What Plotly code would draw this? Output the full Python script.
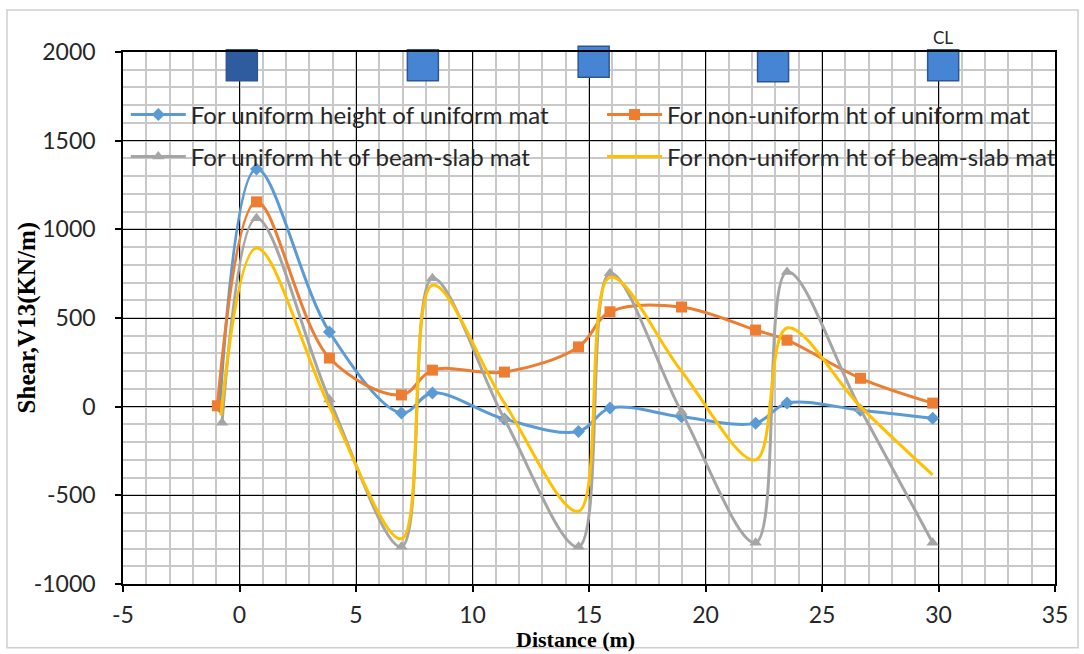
import plotly.graph_objects as go

# ---- data ----
distance = [-0.85, 0.73, 3.86, 6.95, 8.28, 11.37, 14.55, 15.9, 18.97, 22.15, 23.5, 26.65, 29.75]
distance_orange = [-0.95, 0.73, 3.86, 6.95, 8.28, 11.37, 14.55, 15.9, 18.97, 22.15, 23.5, 26.65, 29.75]
distance_gray = [-0.75, 0.73, 3.86, 6.95, 8.28, 11.37, 14.55, 15.9, 18.97, 22.15, 23.5, 26.65, 29.75]
distance_yellow = [-0.8, 0.73, 3.86, 6.95, 8.28, 11.37, 14.55, 15.9, 18.97, 22.15, 23.5, 26.65, 29.75]

uniform_height_uniform_mat = [0, 1340, 421, -36, 77, -70, -140, -8, -57, -93, 20, -20, -65]
nonuniform_ht_uniform_mat = [5, 1155, 274, 66, 206, 195, 337, 535, 562, 432, 375, 160, 20]
uniform_ht_beam_slab_mat = [-90, 1063, 40, -790, 724, -70, -790, 752, -30, -767, 760, -15, -767]
nonuniform_ht_beam_slab_mat = [-50, 895, 0, -745, 685, 20, -590, 730, 200, -300, 444, 0, -385]

support_x = [0.1, 7.87, 15.2, 22.9, 30.2]
support_y = [1925, 1925, 1945, 1920, 1925]
support_fill = ["#2E5C9E", "#4585D3", "#4585D3", "#4585D3", "#4585D3"]

series_names = [
    "For uniform height of uniform mat",
    "For non-uniform ht of uniform mat",
    "For uniform ht of beam-slab mat",
    "For non-uniform ht of beam-slab mat",
]
x_ticks = [-5, 0, 5, 10, 15, 20, 25, 30, 35]
y_ticks = [-1000, -500, 0, 500, 1000, 1500, 2000]

FONT = "Lato"
TXT = "#262626"

fig = go.Figure()

fig.add_trace(go.Scatter(
    x=distance, y=uniform_height_uniform_mat, name=series_names[0],
    mode="lines+markers", line=dict(color="#5B9BD5", width=3, shape="spline", smoothing=1),
    marker=dict(symbol="diamond", size=10, color="#5B9BD5"), legend="legend",
))
fig.add_trace(go.Scatter(
    x=distance_orange, y=nonuniform_ht_uniform_mat, name=series_names[1],
    mode="lines+markers", line=dict(color="#ED7D31", width=3, shape="spline", smoothing=1),
    marker=dict(symbol="square", size=11, color="#ED7D31"), legend="legend2",
))
fig.add_trace(go.Scatter(
    x=distance_gray, y=uniform_ht_beam_slab_mat, name=series_names[2],
    mode="lines+markers", line=dict(color="#A5A5A5", width=3, shape="spline", smoothing=1),
    marker=dict(symbol="triangle-up", size=11, color="#A5A5A5"), legend="legend3",
))
fig.add_trace(go.Scatter(
    x=distance_yellow, y=nonuniform_ht_beam_slab_mat, name=series_names[3],
    mode="lines", line=dict(color="#FFC000", width=3, shape="spline", smoothing=1),
    legend="legend4",
))
fig.add_trace(go.Scatter(
    x=support_x, y=support_y, mode="markers", showlegend=False, cliponaxis=False,
    marker=dict(symbol="square", size=31, color=support_fill,
                line=dict(color="#2F5597", width=1.5)),
    hoverinfo="skip",
))

axis_common = dict(
    showline=True, linecolor="black", linewidth=1.5, mirror=True,
    ticks="outside", ticklen=6, tickcolor="black", tickwidth=1.5,
    showgrid=True, gridcolor="black", gridwidth=1,
    zeroline=False,
    tickfont=dict(family=FONT, size=23, color=TXT),
)

fig.update_xaxes(
    range=[-5, 35], tickvals=x_ticks, ticktext=[str(v) for v in x_ticks],
    minor=dict(dtick=1, tick0=0, showgrid=True, gridcolor="#c8c8c8", gridwidth=1.5, ticks=""),
    ticklabelstandoff=4,
    **axis_common,
)
fig.update_yaxes(
    range=[-1000, 2000], tickvals=y_ticks, ticktext=[str(v) for v in y_ticks],
    minor=dict(dtick=100, tick0=0, showgrid=True, gridcolor="#c8c8c8", gridwidth=1.5, ticks=""),
    ticklabelstandoff=15,
    **axis_common,
)

legend_common = dict(
    orientation="v", bgcolor="rgba(0,0,0,0)", borderwidth=0,
    font=dict(family=FONT, size=24, color=TXT),
    itemwidth=55,
    xanchor="left", yanchor="middle",
)
# column/row positions in paper fraction
col1_x, col2_x = 0.003, 0.514
row1_y, row2_y = 0.8816, 0.8026

fig.update_layout(
    width=1084, height=654,
    margin=dict(l=123, r=29, t=52, b=70),
    paper_bgcolor="white", plot_bgcolor="white",
    legend=dict(x=col1_x, y=row1_y, **legend_common),
    legend2=dict(x=col2_x, y=row1_y, **legend_common),
    legend3=dict(x=col1_x, y=row2_y, **legend_common),
    legend4=dict(x=col2_x, y=row2_y, **legend_common),
    annotations=[
        dict(text="Distance (m)", xref="paper", yref="paper", x=0.486, y=-0.1034,
             xanchor="center", yanchor="middle", showarrow=False,
             font=dict(family="Liberation Serif", size=22, color="black", weight="bold")),
        dict(text="Shear,V13(KN/m)", xref="paper", yref="paper", x=-0.1026, y=0.5,
             xanchor="center", yanchor="middle", showarrow=False, textangle=-90,
             font=dict(family="Liberation Serif", size=25, color="black", weight="bold")),
        dict(text="CL", xref="x", yref="paper", x=30.2, y=1.0, yshift=2,
             xanchor="center", yanchor="bottom", showarrow=False,
             font=dict(family=FONT, size=17, color=TXT)),
    ],
    shapes=[
        dict(type="rect", xref="paper", yref="paper", x0=-0.1245, x1=1.0247, y0=-0.12, y1=1.079,
             line=dict(color="#cfcfcf", width=1.5), fillcolor="rgba(0,0,0,0)", layer="below"),
    ],
)

fig.write_html("out.html")
